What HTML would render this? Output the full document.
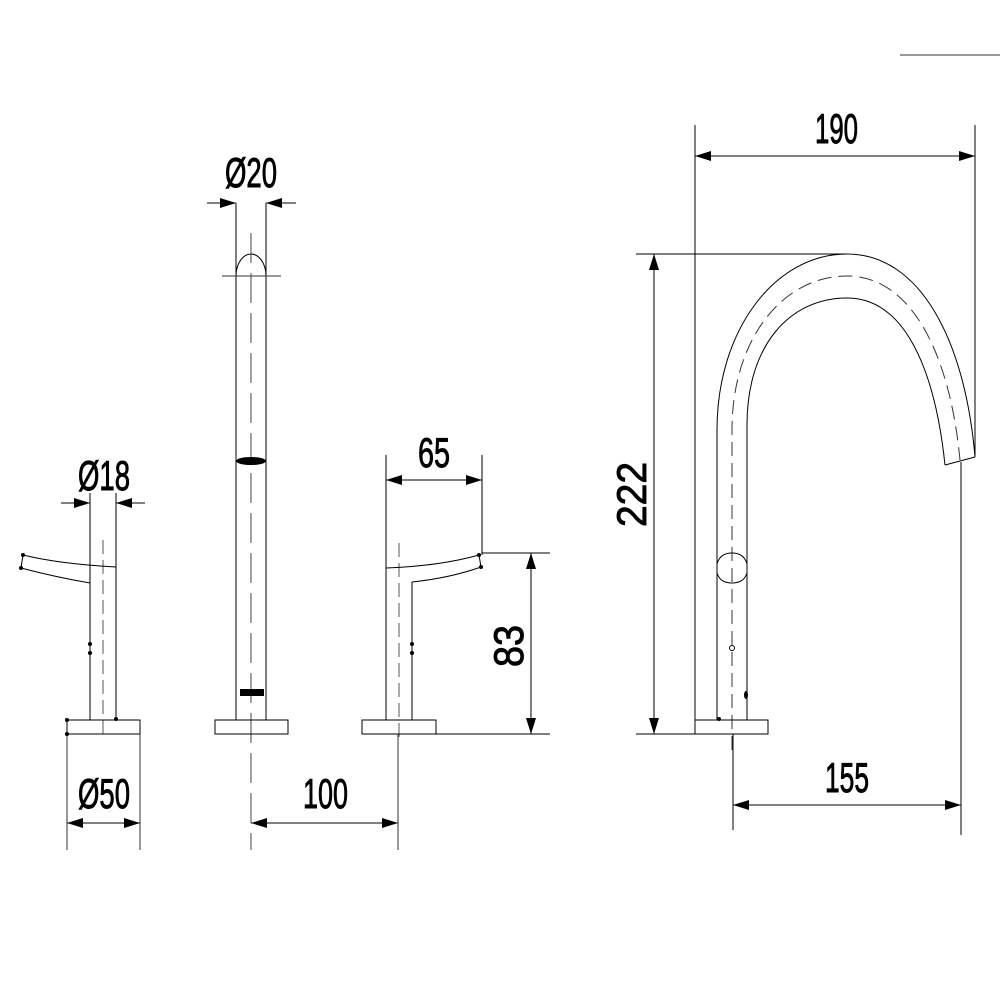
<!DOCTYPE html>
<html><head><meta charset="utf-8"><style>
html,body{margin:0;padding:0;background:#fff}
svg{display:block}
text{font-family:"Liberation Sans",sans-serif;fill:#000;stroke:#000;stroke-width:0.9}
</style></head><body>
<svg width="1000" height="1000" viewBox="0 0 1000 1000" xmlns="http://www.w3.org/2000/svg">
<defs>
<marker id="a" viewBox="0 0 16 10" refX="16" refY="5" markerWidth="16" markerHeight="10" markerUnits="userSpaceOnUse" orient="auto-start-reverse"><path d="M0,0 L16,5 L0,10 Z" fill="#000"/></marker>
</defs>
<rect width="1000" height="1000" fill="#fff"/>
<line x1="900" y1="55" x2="1000" y2="55" stroke="#999" stroke-width="2"/>

<g stroke="#000" stroke-width="1" fill="none">
<!-- LEFT HANDLE -->
<line x1="90" y1="493" x2="90" y2="720"/>
<line x1="116" y1="493" x2="116" y2="720"/>
<line x1="103" y1="540" x2="103" y2="740" stroke-dasharray="14,6" stroke="#555"/>
<rect x="67" y="720" width="73" height="14"/>
<path d="M23,555 Q60,564 116,567"/>
<path d="M21,568 Q55,577 90,583"/>
<line x1="23" y1="555" x2="21" y2="568"/>
<line x1="67" y1="734" x2="67" y2="850" stroke="#333"/>
<line x1="140" y1="734" x2="140" y2="850" stroke="#333"/>
<line x1="61" y1="503" x2="90" y2="503" marker-end="url(#a)"/>
<line x1="145" y1="503" x2="116" y2="503" marker-end="url(#a)"/>
<line x1="67" y1="823" x2="140" y2="823" marker-start="url(#a)" marker-end="url(#a)"/>

<!-- MIDDLE COLUMN -->
<path d="M236,720 L236,276 A15,22 0 0 1 266,276 L266,720"/>
<line x1="236" y1="203" x2="236" y2="276"/>
<line x1="266" y1="203" x2="266" y2="276"/>
<line x1="222" y1="276" x2="281" y2="276" stroke="#333"/>
<line x1="251" y1="233" x2="251" y2="850" stroke-dasharray="30,10" stroke="#444"/>
<rect x="215" y="720" width="73" height="14"/>
<line x1="207" y1="203" x2="236" y2="203" marker-end="url(#a)"/>
<line x1="296" y1="203" x2="266" y2="203" marker-end="url(#a)"/>
<line x1="251" y1="823" x2="398" y2="823" marker-start="url(#a)" marker-end="url(#a)"/>

<!-- RIGHT HANDLE -->
<line x1="386" y1="455" x2="386" y2="720"/>
<line x1="412" y1="582" x2="412" y2="720"/>
<line x1="399" y1="543" x2="399" y2="740" stroke-dasharray="14,6" stroke="#555"/>
<path d="M386,568 Q440,566 479,555"/>
<path d="M412,582 Q450,578 481,567"/>
<line x1="479" y1="555" x2="481" y2="567"/>
<line x1="482" y1="455" x2="482" y2="555"/>
<rect x="362" y="720" width="74" height="14"/>
<line x1="398" y1="734" x2="398" y2="850" stroke="#333"/>
<line x1="386" y1="480" x2="482" y2="480" marker-start="url(#a)" marker-end="url(#a)"/>
<line x1="482" y1="553" x2="550" y2="553"/>
<line x1="436" y1="734" x2="550" y2="734"/>
<line x1="531" y1="553" x2="531" y2="734" marker-start="url(#a)" marker-end="url(#a)"/>

<!-- SPOUT -->
<path d="M717,720 L717,430 C717,330 775,254 847,254 C920,254 965,340 975,457"/>
<path d="M747,720 L747,425 C747,345 790,298 847,298 C905,298 935,370 945,465"/>
<path d="M732,750 L732,430 C732,340 782,276 847,276 C912,276 950,355 960,460" stroke-dasharray="14,7" stroke="#333"/>
<line x1="945" y1="465" x2="975" y2="457"/>
<line x1="961" y1="462" x2="961" y2="835"/>
<path d="M717,564 Q720,553 732,553 Q744,553 747,564 L747,573 Q744,583 732,583 Q720,583 717,573 Z"/>
<circle cx="732" cy="648" r="2.5"/>
<rect x="695" y="720" width="73" height="14"/>
<line x1="695" y1="125" x2="695" y2="720"/>
<line x1="975" y1="125" x2="975" y2="457"/>
<line x1="636" y1="254" x2="847" y2="254"/>
<line x1="636" y1="734" x2="695" y2="734"/>
<line x1="733" y1="734" x2="733" y2="830"/>
<line x1="695" y1="156" x2="975" y2="156" marker-start="url(#a)" marker-end="url(#a)"/>
<line x1="654" y1="254" x2="654" y2="734" marker-start="url(#a)" marker-end="url(#a)"/>
<line x1="733" y1="805" x2="961" y2="805" marker-start="url(#a)" marker-end="url(#a)"/>
</g>

<!-- dots / blobs -->
<g fill="#000">
<circle cx="23" cy="555" r="2"/><circle cx="21" cy="568" r="2"/>
<circle cx="90" cy="644" r="2"/><circle cx="90" cy="653" r="2"/>
<circle cx="116" cy="719" r="2"/><circle cx="67" cy="720" r="2"/><circle cx="67" cy="734" r="2"/>
<ellipse cx="251" cy="461" rx="15" ry="4"/>
<rect x="240" y="689" width="24" height="7"/>
<circle cx="479" cy="555" r="2"/><circle cx="481" cy="567" r="2"/>
<circle cx="412" cy="644" r="2"/><circle cx="412" cy="653" r="2"/>
<ellipse cx="746" cy="695" rx="2" ry="4"/>
<circle cx="719" cy="719" r="2"/>
</g>

<!-- labels -->
<g font-size="42">
<text x="78" y="490" textLength="52" lengthAdjust="spacingAndGlyphs">Ø18</text>
<text x="225" y="187" textLength="52" lengthAdjust="spacingAndGlyphs">Ø20</text>
<text x="418" y="467" textLength="32" lengthAdjust="spacingAndGlyphs">65</text>
<text x="815" y="143" textLength="43" lengthAdjust="spacingAndGlyphs">190</text>
<text x="78" y="808" textLength="52" lengthAdjust="spacingAndGlyphs">Ø50</text>
<text x="303" y="808" textLength="45" lengthAdjust="spacingAndGlyphs">100</text>
<text x="825" y="792" textLength="44" lengthAdjust="spacingAndGlyphs">155</text>
<text transform="translate(646,527) rotate(-90)" textLength="65" lengthAdjust="spacingAndGlyphs">222</text>
<text transform="translate(523,667) rotate(-90)" textLength="42" lengthAdjust="spacingAndGlyphs">83</text>
</g>
</svg>
</body></html>
